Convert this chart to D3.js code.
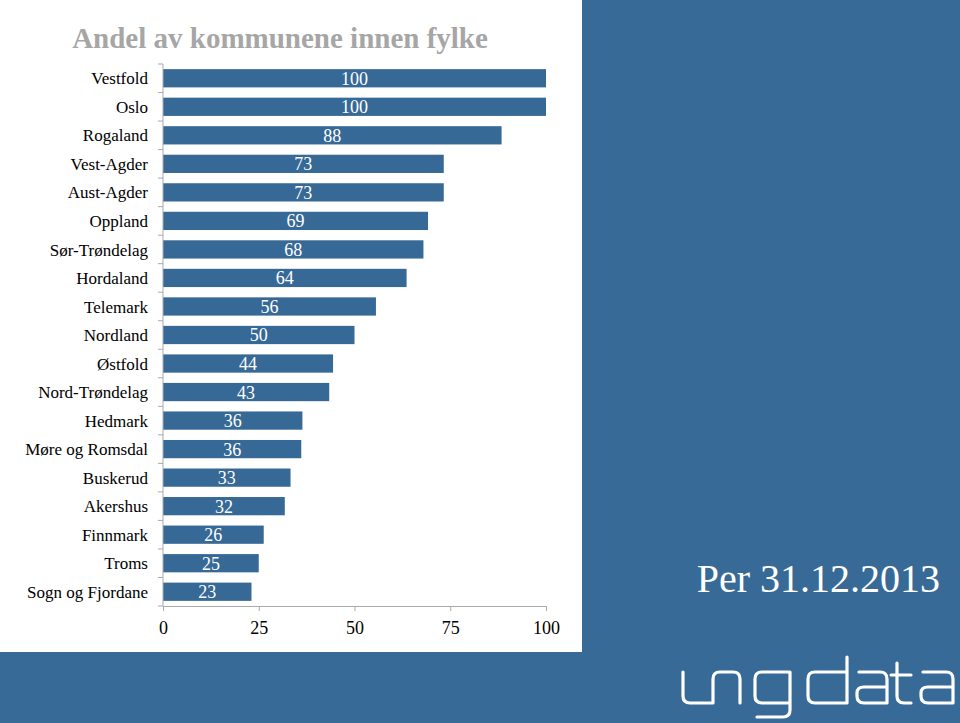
<!DOCTYPE html>
<html>
<head>
<meta charset="utf-8">
<script src="https://cdn.jsdelivr.net/npm/d3@7"></script>
<style>
  html, body { margin: 0; padding: 0; background: #386a98; }
  svg { display: block; }
</style>
</head>
<body>
<div id="chart"></div>
<script>
// counties, top to bottom
var fylker = [
  'Vestfold', 'Oslo', 'Rogaland', 'Vest-Agder', 'Aust-Agder', 'Oppland',
  'Sør-Trøndelag', 'Hordaland', 'Telemark', 'Nordland', 'Østfold',
  'Nord-Trøndelag', 'Hedmark', 'Møre og Romsdal', 'Buskerud', 'Akershus',
  'Finnmark', 'Troms', 'Sogn og Fjordane'
];

// share of municipalities (%)
var andel = [
  100, 100, 88.4, 73.3, 73.3, 69.2,
  68, 63.6, 55.6, 50, 44.4,
  43.4, 36.4, 36.1, 33.3, 31.8,
  26.3, 25, 23.1
];

var xTicks = [0, 25, 50, 75, 100];

var BLUE = '#386a98',
  BAR = '#376997',
  AXIS = '#a9a9a9';

var W = 960, H = 723;

var svg = d3.select('#chart')
  .append('svg')
  .attr('width', W)
  .attr('height', H);

// background panels
svg.append('rect')
  .attr('width', W).attr('height', H)
  .attr('fill', BLUE);
svg.append('rect')
  .attr('x', 0).attr('y', 0)
  .attr('width', 582).attr('height', 652)
  .attr('fill', '#ffffff');

// title
svg.append('text')
  .attr('x', 280)
  .attr('y', 48)
  .attr('text-anchor', 'middle')
  .style('font-family', '"Liberation Serif", serif')
  .style('font-weight', 'bold')
  .style('font-size', '29px')
  .style('fill', '#a6a6a6')
  .text('Andel av kommunene innen fylke');

var data = fylker.map(function (d, i) {
  return { name: d, value: andel[i] };
});

var x = d3.scaleLinear().domain([0, 100]).range([163, 546]);
var y = d3.scaleBand()
  .domain(fylker)
  .range([64, 606])
  .paddingInner(0.36)
  .paddingOuter(0.18);

// bars
svg.selectAll('.bar')
  .data(data)
  .enter()
  .append('rect')
  .attr('class', 'bar')
  .attr('x', x(0))
  .attr('y', function (d) { return y(d.name); })
  .attr('width', function (d) { return x(d.value) - x(0); })
  .attr('height', y.bandwidth())
  .attr('fill', BAR);

// value labels, centred in the bars
svg.selectAll('.val')
  .data(data)
  .enter()
  .append('text')
  .attr('class', 'val')
  .attr('x', function (d) { return (x(0) + x(d.value)) / 2; })
  .attr('y', function (d) { return y(d.name) + y.bandwidth() / 2; })
  .attr('dy', '0.36em')
  .attr('text-anchor', 'middle')
  .style('font-family', '"Liberation Serif", serif')
  .style('font-size', '18px')
  .style('fill', '#ffffff')
  .text(function (d) { return d3.format('.0f')(d.value); });

// category axis (line + ticks between the bands)
var bounds = d3.range(fylker.length + 1).map(function (i) { return 64 + i * (542 / fylker.length); });
var yAxis = svg.append('g').attr('class', 'y-axis');
yAxis.append('line')
  .attr('x1', x(0)).attr('x2', x(0))
  .attr('y1', 64).attr('y2', 606)
  .attr('stroke', AXIS);
yAxis.selectAll('.tk')
  .data(bounds)
  .enter()
  .append('line')
  .attr('x1', x(0) - 5).attr('x2', x(0))
  .attr('y1', function (d) { return d; })
  .attr('y2', function (d) { return d; })
  .attr('stroke', AXIS);
yAxis.selectAll('.lbl')
  .data(fylker)
  .enter()
  .append('text')
  .attr('x', 148)
  .attr('y', function (d) { return y(d) + y.bandwidth() / 2; })
  .attr('dy', '0.36em')
  .attr('text-anchor', 'end')
  .style('font-family', '"Liberation Serif", serif')
  .style('font-size', '17px')
  .style('fill', '#000')
  .text(function (d) { return d; });

// value axis
var xAxis = svg.append('g')
  .attr('transform', 'translate(0,606)')
  .call(d3.axisBottom(x).tickValues(xTicks).tickSize(5).tickPadding(10));
xAxis.select('.domain').attr('stroke', AXIS);
xAxis.selectAll('.tick line').attr('stroke', AXIS);
xAxis.selectAll('.tick text')
  .style('font-family', '"Liberation Serif", serif')
  .style('font-size', '18px')
  .style('fill', '#000');

// date note
svg.append('text')
  .attr('x', 940)
  .attr('y', 592)
  .attr('text-anchor', 'end')
  .style('font-family', '"Liberation Serif", serif')
  .style('font-size', '40px')
  .style('fill', '#ffffff')
  .text('Per 31.12.2013');

// ungdata logo, drawn as rounded strokes
var logo = [
  'M683,672 V696 Q683,703 690,703 H713 V679 Q713,672 720,672 H733 Q740,672 740,679 V703',
  'M790,703 H762 Q755,703 755,696 V679 Q755,672 762,672 H790 V710 Q790,717 783,717 H757',
  'M847,657 V703 H815 Q808,703 808,696 V679 Q808,672 815,672 H847',
  'M859,672 H880 Q887,672 887,679 V703 H864 Q857,703 857,696 V693 Q857,687 864,687 H887',
  'M897,663 V696 Q897,703 904,703 H911 M891,675 H911',
  'M923,672 H946 Q953,672 953,679 V703 H928 Q921,703 921,696 V693 Q921,687 928,687 H953'
];
svg.append('g')
  .selectAll('path')
  .data(logo)
  .enter()
  .append('path')
  .attr('d', function (d) { return d; })
  .attr('fill', 'none')
  .attr('stroke', '#ffffff')
  .attr('stroke-width', 3.2)
  .attr('stroke-linecap', 'round')
  .attr('stroke-linejoin', 'round');
</script>
</body>
</html>
